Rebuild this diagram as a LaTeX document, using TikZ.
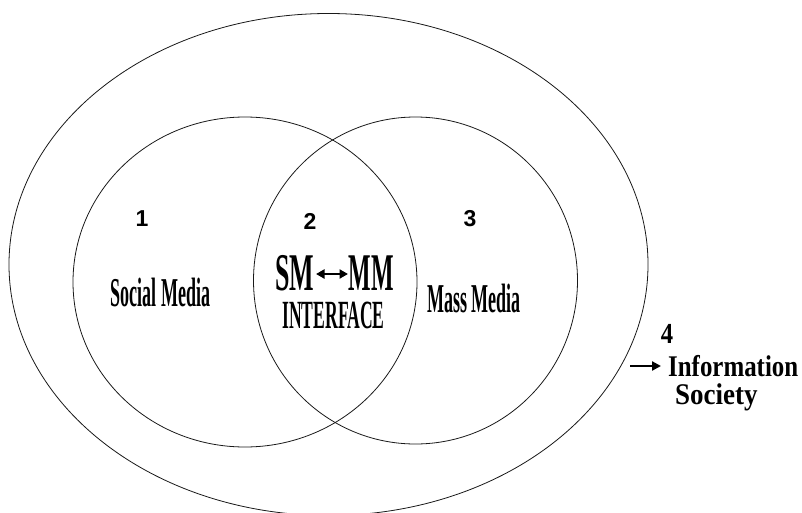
\documentclass[tikz,border=0pt]{standalone}
\usepackage{fontspec}
\usepackage{graphicx}
\setmainfont{Liberation Serif}
\newfontfamily\numfont{Liberation Sans}
\usetikzlibrary{shapes.geometric,arrows.meta}
\tikzset{
  ring/.style={ellipse, draw=black!90, line width=0.8pt, inner sep=0pt},
  numlbl/.style={anchor=base, inner sep=0pt, font=\numfont\bfseries\fontsize{23}{23}\selectfont},
  condlbl/.style={anchor=base, inner sep=0pt},
  infolbl/.style={anchor=base west, inner sep=0pt},
  link/.style={line width=2.2pt, -{Triangle[length=9pt,width=9pt]}},
  dlink/.style={line width=2.2pt, {Triangle[length=8.5pt,width=9pt]}-{Triangle[length=8.5pt,width=9pt]}}
}
\newcommand{\condtxt}[3]{\scalebox{#1}[1]{\bfseries\fontsize{#2}{#2}\selectfont #3}}
\begin{document}
\begin{tikzpicture}[x=1pt,y=-1pt]
\useasboundingbox (0,0) rectangle (802,513);
% circles
\node[ring, minimum width=639pt, minimum height=502pt] (outer) at (328.5,264.5) {};
\node[ring, minimum width=344pt, minimum height=330pt] (social) at (245,282) {};
\node[ring, minimum width=324pt, minimum height=327pt] (mass) at (415.5,280.5) {};
% numbers
\node[numlbl] (n1) at (142,226) {1};
\node[numlbl] (n2) at (310,229) {2};
\node[numlbl] (n3) at (470,226) {3};
% region labels
\node[condlbl] (sm) at (160.5,306) {\condtxt{0.44}{41}{Social Media}};
\node[condlbl] (mm) at (474,312) {\condtxt{0.44}{41}{Mass Media}};
\node[condlbl] (smA) at (295,290) {\condtxt{0.49}{53}{SM}};
\node[condlbl] (smB) at (371.5,290) {\condtxt{0.45}{53}{MM}};
\node[condlbl] (iface) at (333.5,328) {\condtxt{0.44}{40}{INTERFACE}};
\coordinate (aL) at (316,274);
\coordinate (aR) at (348,274);
\draw[dlink] (aL) -- (aR);
% information society
\node[anchor=base, inner sep=0pt] (n4) at (667,343) {\condtxt{0.85}{29}{4}};
\node[infolbl] (info) at (668,376) {\condtxt{0.83}{30}{Information}};
\node[infolbl] (soc) at (675,404) {\condtxt{0.9}{30}{Society}};
\coordinate (iA) at (630,366);
\coordinate (iB) at (661,366);
\draw[link] (iA) -- (iB);
\end{tikzpicture}
\end{document}
